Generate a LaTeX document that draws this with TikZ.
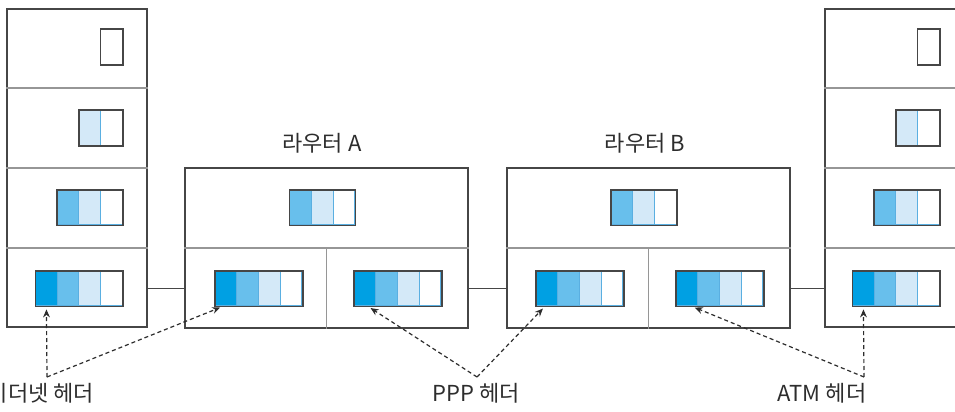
\documentclass[tikz,border=0pt]{standalone}
\usepackage{fontspec}
\setmainfont{Noto Sans CJK KR}
\usetikzlibrary{arrows.meta,positioning,calc,shadows}
\definecolor{ink}{RGB}{45,45,45}
\definecolor{frame}{RGB}{70,70,70}
\definecolor{rule}{RGB}{150,150,150}
\definecolor{hdr0}{RGB}{255,255,255}
\definecolor{hdr1}{RGB}{212,233,248}
\definecolor{hdr2}{RGB}{104,191,236}
\definecolor{hdr3}{RGB}{0,160,227}
\definecolor{hdrline}{RGB}{90,175,225}
\tikzset{
  box/.style={draw=frame,line width=1pt,fill=white,inner sep=0pt,drop shadow={shadow xshift=0.7pt,shadow yshift=-0.7pt,opacity=0.25}},
  host/.style={box,minimum width=70pt,minimum height=159pt},
  router/.style={box,minimum width=141.5pt,minimum height=80pt},
  pkt/.style={inner sep=0pt,minimum height=17.5pt},
  pktframe/.style={draw=frame,line width=0.9pt},
  layer/.style={draw=rule,line width=0.7pt},
  link/.style={draw=frame,line width=0.7pt},
  hint/.style={-{Stealth[length=4pt,width=3.4pt]},draw=ink,line width=0.6pt,dash pattern=on 2pt off 1.5pt,shorten >=1.5pt},
  lbl/.style={font=\fontsize{11}{13}\selectfont,text=ink,inner sep=0pt}
}
% header stack: name, anchor, position, number of cells
\newcommand{\hdrpkt}[4]{%
  \node[pkt,minimum width=#4*10.85pt,anchor=#2] (#1) at (#3) {};
  \foreach \k [evaluate=\k as \c using int(#4-\k)] in {1,...,#4}
    \filldraw[fill=hdr\c,draw=hdrline,line width=0.4pt]
      ($(#1.north west)+({(\k-1)*10.85pt},0pt)$) rectangle ++(10.85pt,-17.5pt);
  \draw[pktframe] (#1.south west) rectangle (#1.north east);
}

\begin{document}
\begin{tikzpicture}[x=0.5pt,y=-0.5pt]
\useasboundingbox[fill=white] (0,0) rectangle (955,412);
\clip (0,0) rectangle (955,412);

% end hosts
\node[host,anchor=north west] (hostL) at (6,8) {};
\node[host,anchor=north west] (hostR) at (824,8) {};
\foreach \h in {hostL,hostR}
  \foreach \f in {0.25,0.5,0.75}
    \draw[layer] ($(\h.north west)!\f!(\h.south west)$) -- ($(\h.north east)!\f!(\h.south east)$);

% routers
\node[router,anchor=north west] (rtA) at (184,167) {};
\node[router,anchor=north west] (rtB) at (506,167) {};
\foreach \r in {rtA,rtB}{
  \draw[layer] (\r.west) -- (\r.east);
  \draw[layer] (\r.center) -- (\r.south);
}
\node[lbl] (tA) at (322,143) {라우터 A};
\node[lbl] (tB) at (645,143) {라우터 B};

% headers in the hosts
\hdrpkt{hL1}{east}{123,47}{1}
\hdrpkt{hL2}{east}{123,128}{2}
\hdrpkt{hL3}{east}{123,207.5}{3}
\hdrpkt{hL4}{east}{123,288.5}{4}
\hdrpkt{hR1}{east}{940,47}{1}
\hdrpkt{hR2}{east}{940,128}{2}
\hdrpkt{hR3}{east}{940,207.5}{3}
\hdrpkt{hR4}{east}{940,288.5}{4}

% headers in the routers
\hdrpkt{hA0}{center}{322.5,207.5}{3}
\hdrpkt{hA1}{west}{215,288.5}{4}
\hdrpkt{hA2}{west}{354,288.5}{4}
\hdrpkt{hB0}{center}{644,207.5}{3}
\hdrpkt{hB1}{west}{536,288.5}{4}
\hdrpkt{hB2}{west}{676,288.5}{4}

% links
\draw[link] (hL4 -| hostL.east) -- (hA1 -| rtA.west);
\draw[link] (hA2 -| rtA.east) -- (hB1 -| rtB.west);
\draw[link] (hB2 -| rtB.east) -- (hR4 -| hostR.west);

% labels
\node[lbl] (ethLbl) at (41,393) {이더넷 헤더};
\node[lbl] (pppLbl) at (476,393) {PPP 헤더};
\node[lbl] (atmLbl) at (822,393) {ATM 헤더};
\coordinate (ethPt) at (47,377);
\coordinate (pppPt) at (477,377);
\coordinate (atmPt) at (864,377);

\draw[hint] (ethPt) -- ($(hL4.south west)+(11,0)$);
\draw[hint] (ethPt) -- ($(hA1.south west)+(8,0)$);
\draw[hint] (pppPt) -- ($(hA2.south west)+(14,0)$);
\draw[hint] (pppPt) -- ($(hB1.south west)+(9,0)$);
\draw[hint] (atmPt) -- ($(hB2.south west)+(16,0)$);
\draw[hint] (atmPt) -- ($(hR4.south west)+(11,0)$);
\end{tikzpicture}
\end{document}
